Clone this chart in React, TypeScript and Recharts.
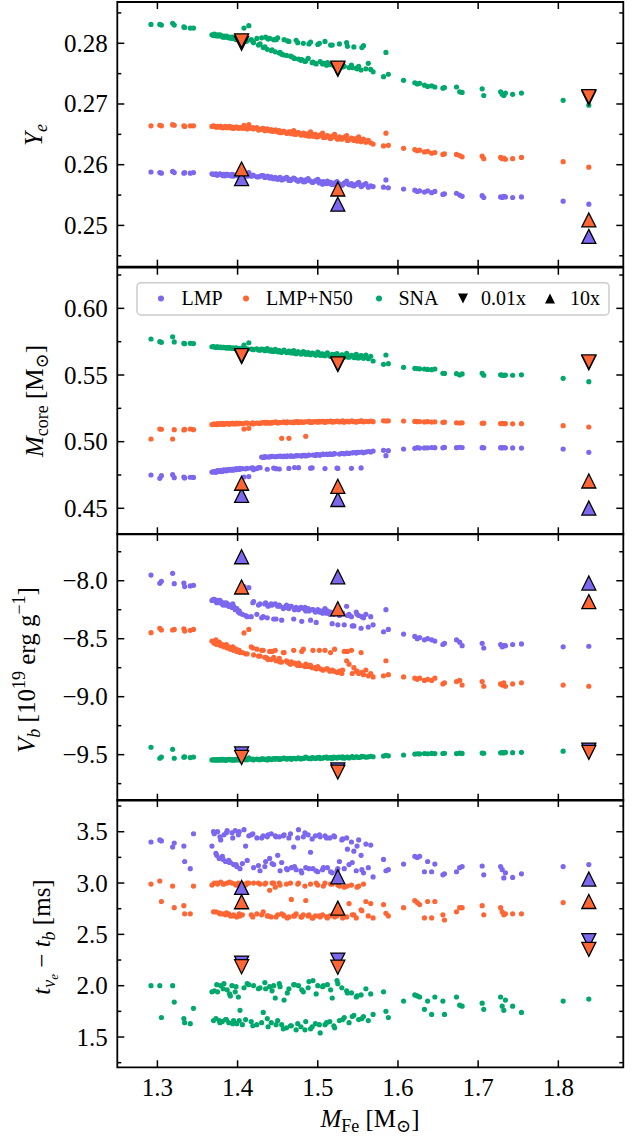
import React from "react";
import { ScatterChart, Scatter, XAxis, YAxis, ReferenceArea } from "recharts";

const FONT = "'Liberation Serif', 'DejaVu Serif', serif";
const LMP_COLOR = "#7B68EE";
const N50_COLOR = "#FF6633";
const SNA_COLOR = "#00A86B";

// iron core mass of each progenitor [Msun], shared by all four panels
// (last block: extra models filling the dense 1.37-1.56 range)
const mFe = [
  1.292, 1.303, 1.305, 1.319, 1.321, 1.333, 1.334, 1.341, 1.345, 1.368,
  1.371, 1.373, 1.375, 1.377, 1.379, 1.381, 1.383, 1.385, 1.387, 1.389,
  1.391, 1.393, 1.395, 1.397, 1.399, 1.401, 1.403, 1.408, 1.410, 1.414,
  1.417, 1.420, 1.424, 1.428, 1.432, 1.435, 1.437, 1.440, 1.442, 1.445,
  1.447, 1.450, 1.452, 1.455, 1.458, 1.461, 1.464, 1.467, 1.470, 1.473,
  1.476, 1.479, 1.482, 1.485, 1.488, 1.491, 1.494, 1.497, 1.500, 1.503,
  1.506, 1.509, 1.512, 1.515, 1.518, 1.521, 1.524, 1.527, 1.530, 1.533,
  1.536, 1.539, 1.542, 1.545, 1.548, 1.551, 1.554, 1.557, 1.560, 1.563,
  1.566, 1.569, 1.582, 1.585, 1.588, 1.607, 1.621, 1.624, 1.627, 1.633,
  1.637, 1.642, 1.646, 1.656, 1.658, 1.673, 1.677, 1.680, 1.705, 1.707,
  1.728, 1.730, 1.732, 1.734, 1.743, 1.754, 1.806, 1.838,
  1.370, 1.374, 1.378, 1.382, 1.386, 1.390, 1.394, 1.398, 1.402, 1.406,
  1.412, 1.419, 1.426, 1.430, 1.434, 1.438, 1.443, 1.448, 1.453, 1.457,
  1.462, 1.466, 1.471, 1.475, 1.480, 1.484, 1.489, 1.493, 1.498, 1.502,
  1.507, 1.511, 1.516, 1.520, 1.525, 1.531, 1.537, 1.543, 1.549, 1.555,
];

// Ye at bounce
const yeLMP = [
  0.2588, 0.2587, 0.2586, 0.2589, 0.2587, 0.2586, 0.2587, 0.2586, 0.2587, 0.2585,
  0.2584, 0.2585, 0.2583, 0.2584, 0.2584, 0.2583, 0.2584, 0.2582, 0.2584, 0.2583,
  0.2582, 0.2584, 0.2583, 0.2582, 0.2583, 0.2582, 0.2581, 0.2586, 0.2582, 0.2587,
  0.2581, 0.2582, 0.2580, 0.2581, 0.2582, 0.2579, 0.2581, 0.2578, 0.2580, 0.2577,
  0.2579, 0.2576, 0.2578, 0.2575, 0.2577, 0.2579, 0.2574, 0.2576, 0.2578, 0.2575,
  0.2573, 0.2576, 0.2572, 0.2575, 0.2577, 0.2573, 0.2571, 0.2574, 0.2576, 0.2572,
  0.2568, 0.2571, 0.2573, 0.2569, 0.2567, 0.2570, 0.2572, 0.2568, 0.2566, 0.2570,
  0.2573, 0.2567, 0.2569, 0.2565, 0.2568, 0.2571, 0.2564, 0.2567, 0.2569, 0.2563,
  0.2565, 0.2564, 0.2563, 0.2575, 0.2562, 0.2560, 0.2558, 0.2556, 0.2557, 0.2555,
  0.2557, 0.2554, 0.2556, 0.2551, 0.2552, 0.2553, 0.2550, 0.2548, 0.2549, 0.2546,
  0.2547, 0.2546, 0.2548, 0.2547, 0.2546, 0.2547, 0.2540, 0.2535,
  0.2584, 0.2583, 0.2585, 0.2582, 0.2584, 0.2583, 0.2581, 0.2583, 0.2582, 0.2580,
  0.2581, 0.2583, 0.2580, 0.2582, 0.2579, 0.2581, 0.2578, 0.2577, 0.2579, 0.2576,
  0.2578, 0.2574, 0.2577, 0.2573, 0.2575, 0.2572, 0.2574, 0.2571, 0.2573, 0.2570,
  0.2572, 0.2569, 0.2571, 0.2568, 0.2570, 0.2567, 0.2569, 0.2566, 0.2568, 0.2565,
];
const yeN50 = [
  0.2664, 0.2665, 0.2664, 0.2666, 0.2665, 0.2664, 0.2663, 0.2664, 0.2664, 0.2663,
  0.2663, 0.2662, 0.2663, 0.2662, 0.2663, 0.2661, 0.2662, 0.2663, 0.2661, 0.2662,
  0.2661, 0.2662, 0.2660, 0.2661, 0.2662, 0.2660, 0.2661, 0.2665, 0.2660, 0.2666,
  0.2660, 0.2659, 0.2661, 0.2658, 0.2660, 0.2657, 0.2659, 0.2656, 0.2658, 0.2655,
  0.2657, 0.2654, 0.2656, 0.2653, 0.2655, 0.2652, 0.2654, 0.2651, 0.2656, 0.2650,
  0.2653, 0.2649, 0.2652, 0.2648, 0.2651, 0.2654, 0.2647, 0.2650, 0.2646, 0.2649,
  0.2652, 0.2645, 0.2648, 0.2644, 0.2647, 0.2650, 0.2643, 0.2646, 0.2642, 0.2645,
  0.2648, 0.2641, 0.2644, 0.2640, 0.2643, 0.2646, 0.2638, 0.2642, 0.2637, 0.2640,
  0.2636, 0.2634, 0.2631, 0.2652, 0.2632, 0.2627, 0.2625, 0.2623, 0.2624, 0.2621,
  0.2622, 0.2619, 0.2620, 0.2617, 0.2618, 0.2617, 0.2615, 0.2613, 0.2614, 0.2610,
  0.2612, 0.2610, 0.2611, 0.2609, 0.2610, 0.2612, 0.2605, 0.2596,
  0.2664, 0.2662, 0.2663, 0.2661, 0.2662, 0.2663, 0.2660, 0.2662, 0.2661, 0.2660,
  0.2659, 0.2661, 0.2657, 0.2659, 0.2656, 0.2658, 0.2655, 0.2657, 0.2653, 0.2655,
  0.2652, 0.2654, 0.2650, 0.2653, 0.2649, 0.2651, 0.2647, 0.2650, 0.2646, 0.2648,
  0.2645, 0.2647, 0.2643, 0.2646, 0.2642, 0.2644, 0.2640, 0.2643, 0.2639, 0.2641,
];
const yeSNA = [
  0.2831, 0.2831, 0.2830, 0.2833, 0.2830, 0.2827, 0.2826, 0.2825, 0.2825, 0.2814,
  0.2815, 0.2813, 0.2814, 0.2812, 0.2813, 0.2811, 0.2812, 0.2810, 0.2811, 0.2809,
  0.2810, 0.2808, 0.2809, 0.2807, 0.2806, 0.2808, 0.2805, 0.2825, 0.2803, 0.2829,
  0.2806, 0.2801, 0.2808, 0.2799, 0.2793, 0.2810, 0.2790, 0.2808, 0.2788, 0.2806,
  0.2786, 0.2809, 0.2784, 0.2782, 0.2806, 0.2780, 0.2803, 0.2778, 0.2776, 0.2805,
  0.2774, 0.2772, 0.2800, 0.2771, 0.2775, 0.2802, 0.2769, 0.2767, 0.2798, 0.2770,
  0.2766, 0.2803, 0.2768, 0.2765, 0.2797, 0.2767, 0.2763, 0.2799, 0.2765, 0.2762,
  0.2801, 0.2760, 0.2764, 0.2794, 0.2759, 0.2762, 0.2756, 0.2796, 0.2758, 0.2767,
  0.2757, 0.2753, 0.2745, 0.2785, 0.2749, 0.2739, 0.2735, 0.2733, 0.2734, 0.2731,
  0.2729, 0.2730, 0.2728, 0.2726, 0.2727, 0.2728, 0.2720, 0.2719, 0.2725, 0.2714,
  0.2720, 0.2716, 0.2714, 0.2718, 0.2716, 0.2718, 0.2706, 0.2698,
  0.2813, 0.2812, 0.2814, 0.2810, 0.2812, 0.2809, 0.2810, 0.2807, 0.2808, 0.2806,
  0.2804, 0.2803, 0.2797, 0.2809, 0.2794, 0.2807, 0.2789, 0.2806, 0.2785, 0.2781,
  0.2804, 0.2779, 0.2775, 0.2801, 0.2773, 0.2770, 0.2799, 0.2768, 0.2766, 0.2800,
  0.2767, 0.2764, 0.2797, 0.2763, 0.2765, 0.2761, 0.2795, 0.2760, 0.2758, 0.2793,
];

// inner core mass [Msun]
const mcLMP = [
  0.4750, 0.4725, 0.4745, 0.4752, 0.4730, 0.4735, 0.4728, 0.4733, 0.4732, 0.4772,
  0.4775, 0.4770, 0.4782, 0.4778, 0.4785, 0.4776, 0.4788, 0.4783, 0.4790, 0.4786,
  0.4792, 0.4788, 0.4795, 0.4790, 0.4798, 0.4793, 0.4800, 0.4735, 0.4796, 0.4738,
  0.4802, 0.4790, 0.4798, 0.4805, 0.4882, 0.4885, 0.4793, 0.4886, 0.4888, 0.4802,
  0.4887, 0.4890, 0.4795, 0.4889, 0.4892, 0.4888, 0.4799, 0.4893, 0.4890, 0.4895,
  0.4805, 0.4894, 0.4897, 0.4893, 0.4898, 0.4801, 0.4900, 0.4897, 0.4903, 0.4899,
  0.4906, 0.4798, 0.4903, 0.4908, 0.4905, 0.4910, 0.4802, 0.4907, 0.4912, 0.4909,
  0.4915, 0.4912, 0.4800, 0.4918, 0.4914, 0.4920, 0.4803, 0.4917, 0.4922, 0.4926,
  0.4923, 0.4930, 0.4935, 0.4895, 0.4932, 0.4945, 0.4950, 0.4955, 0.4952, 0.4953,
  0.4954, 0.4956, 0.4955, 0.4954, 0.4957, 0.4955, 0.4958, 0.4956, 0.4955, 0.4954,
  0.4955, 0.4953, 0.4956, 0.4954, 0.4953, 0.4952, 0.4945, 0.4920,
  0.4773, 0.4779, 0.4776, 0.4784, 0.4781, 0.4789, 0.4786, 0.4794, 0.4791, 0.4797,
  0.4799, 0.4803, 0.4806, 0.4884, 0.4887, 0.4885, 0.4889, 0.4797, 0.4891, 0.4888,
  0.4893, 0.4891, 0.4806, 0.4895, 0.4893, 0.4897, 0.4900, 0.4804, 0.4902, 0.4899,
  0.4904, 0.4907, 0.4905, 0.4909, 0.4799, 0.4911, 0.4913, 0.4916, 0.4919, 0.4921,
];
const mcN50 = [
  0.5020, 0.5095, 0.5093, 0.5020, 0.5090, 0.5088, 0.5092, 0.5095, 0.5090, 0.5128,
  0.5132, 0.5130, 0.5135, 0.5129, 0.5133, 0.5136, 0.5131, 0.5134, 0.5137, 0.5132,
  0.5135, 0.5138, 0.5133, 0.5136, 0.5139, 0.5134, 0.5137, 0.5095, 0.5140, 0.5100,
  0.5136, 0.5133, 0.5140, 0.5137, 0.5143, 0.5139, 0.5145, 0.5141, 0.5138, 0.5144,
  0.5146, 0.5140, 0.5143, 0.5025, 0.5147, 0.5141, 0.5025, 0.5145, 0.5142, 0.5148,
  0.5143, 0.5149, 0.5145, 0.5040, 0.5150, 0.5144, 0.5147, 0.5151, 0.5146, 0.5148,
  0.5152, 0.5145, 0.5149, 0.5153, 0.5147, 0.5150, 0.5154, 0.5148, 0.5151, 0.5146,
  0.5153, 0.5149, 0.5155, 0.5150, 0.5147, 0.5152, 0.5156, 0.5149, 0.5153, 0.5151,
  0.5155, 0.5150, 0.5157, 0.5155, 0.5156, 0.5155, 0.5152, 0.5150, 0.5151, 0.5148,
  0.5150, 0.5147, 0.5149, 0.5145, 0.5146, 0.5142, 0.5140, 0.5141, 0.5138, 0.5139,
  0.5136, 0.5137, 0.5135, 0.5136, 0.5134, 0.5135, 0.5120, 0.5110,
  0.5131, 0.5128, 0.5134, 0.5130, 0.5136, 0.5133, 0.5137, 0.5134, 0.5138, 0.5135,
  0.5139, 0.5142, 0.5138, 0.5141, 0.5145, 0.5140, 0.5144, 0.5147, 0.5143, 0.5146,
  0.5149, 0.5145, 0.5148, 0.5150, 0.5146, 0.5149, 0.5152, 0.5148, 0.5151, 0.5153,
  0.5149, 0.5152, 0.5155, 0.5150, 0.5153, 0.5156, 0.5152, 0.5155, 0.5151, 0.5154,
];
const mcSNA = [
  0.5770, 0.5750, 0.5745, 0.5787, 0.5748, 0.5738, 0.5735, 0.5738, 0.5736, 0.5712,
  0.5710, 0.5708, 0.5711, 0.5707, 0.5709, 0.5705, 0.5707, 0.5704, 0.5706, 0.5702,
  0.5704, 0.5700, 0.5702, 0.5698, 0.5700, 0.5697, 0.5699, 0.5725, 0.5696, 0.5742,
  0.5695, 0.5690, 0.5697, 0.5686, 0.5692, 0.5684, 0.5698, 0.5680, 0.5688, 0.5677,
  0.5692, 0.5675, 0.5683, 0.5670, 0.5687, 0.5668, 0.5679, 0.5665, 0.5684, 0.5660,
  0.5672, 0.5658, 0.5676, 0.5655, 0.5668, 0.5652, 0.5663, 0.5650, 0.5671, 0.5648,
  0.5658, 0.5645, 0.5666, 0.5642, 0.5655, 0.5640, 0.5660, 0.5638, 0.5652, 0.5636,
  0.5662, 0.5634, 0.5648, 0.5631, 0.5655, 0.5628, 0.5645, 0.5625, 0.5650, 0.5622,
  0.5640, 0.5605, 0.5580, 0.5650, 0.5585, 0.5558, 0.5550, 0.5548, 0.5546, 0.5545,
  0.5542, 0.5540, 0.5545, 0.5513, 0.5512, 0.5510, 0.5500, 0.5508, 0.5513, 0.5498,
  0.5502, 0.5499, 0.5497, 0.5500, 0.5498, 0.5501, 0.5475, 0.5450,
  0.5713, 0.5709, 0.5706, 0.5708, 0.5703, 0.5705, 0.5701, 0.5703, 0.5699, 0.5701,
  0.5696, 0.5693, 0.5688, 0.5694, 0.5682, 0.5689, 0.5678, 0.5685, 0.5673, 0.5681,
  0.5669, 0.5678, 0.5664, 0.5674, 0.5660, 0.5669, 0.5656, 0.5665, 0.5651, 0.5661,
  0.5647, 0.5657, 0.5643, 0.5653, 0.5639, 0.5649, 0.5635, 0.5644, 0.5630, 0.5641,
];

// gravitational potential at bounce [1e19 erg/g]
const vbLMP = [
  -7.951, -8.022, -8.005, -7.936, -8.025, -8.020, -8.050, -8.045, -8.040, -8.17,
  -8.16, -8.18, -8.17, -8.19, -8.18, -8.20, -8.19, -8.21, -8.20, -8.22,
  -8.21, -8.23, -8.22, -8.25, -8.24, -8.27, -8.28, -8.05, -8.30, -8.06,
  -8.31, -8.18, -8.29, -8.20, -8.31, -8.19, -8.32, -8.21, -8.20, -8.33,
  -8.20, -8.22, -8.21, -8.34, -8.23, -8.21, -8.24, -8.22, -8.33, -8.23,
  -8.25, -8.23, -8.24, -8.26, -8.24, -8.34, -8.25, -8.27, -8.25, -8.26,
  -8.28, -8.24, -8.26, -8.29, -8.37, -8.27, -8.26, -8.30, -8.28, -8.38,
  -8.22, -8.29, -8.31, -8.39, -8.27, -8.30, -8.41, -8.32, -8.29, -8.40,
  -8.31, -8.38, -8.44, -8.25, -8.42, -8.46, -8.48, -8.50, -8.49, -8.51,
  -8.50, -8.51, -8.52, -8.55, -8.54, -8.51, -8.53, -8.56, -8.54, -8.58,
  -8.55, -8.57, -8.56, -8.56, -8.55, -8.545, -8.57, -8.565,
  -8.16, -8.19, -8.17, -8.21, -8.19, -8.22, -8.20, -8.24, -8.26, -8.29,
  -8.31, -8.19, -8.21, -8.32, -8.20, -8.22, -8.21, -8.33, -8.22, -8.24,
  -8.23, -8.22, -8.25, -8.24, -8.35, -8.23, -8.26, -8.25, -8.36, -8.27,
  -8.26, -8.28, -8.27, -8.29, -8.38, -8.28, -8.30, -8.39, -8.29, -8.31,
];
const vbN50 = [
  -8.448, -8.410, -8.425, -8.425, -8.420, -8.415, -8.434, -8.428, -8.420, -8.52,
  -8.54, -8.51, -8.55, -8.53, -8.56, -8.55, -8.57, -8.56, -8.58, -8.57,
  -8.59, -8.58, -8.60, -8.59, -8.61, -8.60, -8.62, -8.45, -8.63, -8.42,
  -8.57, -8.64, -8.59, -8.65, -8.60, -8.66, -8.67, -8.61, -8.68, -8.66,
  -8.60, -8.69, -8.67, -8.70, -8.62, -8.69, -8.71, -8.70, -8.60, -8.72,
  -8.71, -8.73, -8.59, -8.72, -8.74, -8.73, -8.60, -8.75, -8.74, -8.76,
  -8.77, -8.60, -8.76, -8.78, -8.77, -8.59, -8.79, -8.78, -8.80, -8.61,
  -8.69, -8.72, -8.60, -8.75, -8.78, -8.80, -8.62, -8.81, -8.77, -8.82,
  -8.80, -8.83, -8.82, -8.69, -8.81, -8.83, -8.84, -8.85, -8.84, -8.86,
  -8.85, -8.86, -8.84, -8.89, -8.88, -8.87, -8.86, -8.90, -8.87, -8.91,
  -8.89, -8.90, -8.88, -8.91, -8.89, -8.88, -8.90, -8.91,
  -8.53, -8.55, -8.54, -8.56, -8.55, -8.58, -8.57, -8.59, -8.60, -8.62,
  -8.63, -8.58, -8.65, -8.60, -8.66, -8.68, -8.61, -8.69, -8.70, -8.62,
  -8.70, -8.72, -8.71, -8.73, -8.61, -8.74, -8.73, -8.75, -8.76, -8.60,
  -8.77, -8.76, -8.62, -8.78, -8.79, -8.77, -8.61, -8.80, -8.78, -8.79,
];
const vbSNA = [
  -9.436, -9.531, -9.520, -9.454, -9.531, -9.522, -9.518, -9.525, -9.520, -9.545,
  -9.542, -9.548, -9.544, -9.546, -9.541, -9.547, -9.543, -9.549, -9.544, -9.540,
  -9.546, -9.542, -9.548, -9.543, -9.545, -9.541, -9.547, -9.530, -9.543, -9.528,
  -9.540, -9.545, -9.538, -9.543, -9.536, -9.541, -9.546, -9.537, -9.542, -9.535,
  -9.539, -9.533, -9.541, -9.536, -9.530, -9.538, -9.534, -9.540, -9.532, -9.536,
  -9.530, -9.537, -9.533, -9.520, -9.531, -9.535, -9.528, -9.532, -9.526, -9.534,
  -9.529, -9.524, -9.531, -9.527, -9.533, -9.525, -9.529, -9.522, -9.527, -9.531,
  -9.523, -9.528, -9.520, -9.525, -9.518, -9.524, -9.521, -9.516, -9.522, -9.519,
  -9.514, -9.518, -9.512, -9.505, -9.510, -9.503, -9.495, -9.492, -9.494, -9.490,
  -9.492, -9.489, -9.491, -9.490, -9.488, -9.491, -9.487, -9.489, -9.486, -9.488,
  -9.484, -9.482, -9.485, -9.481, -9.483, -9.480, -9.470, -9.468,
  -9.546, -9.543, -9.547, -9.541, -9.545, -9.542, -9.546, -9.540, -9.544, -9.541,
  -9.543, -9.539, -9.542, -9.537, -9.540, -9.535, -9.538, -9.534, -9.537, -9.532,
  -9.535, -9.531, -9.534, -9.529, -9.532, -9.528, -9.531, -9.526, -9.529, -9.524,
  -9.527, -9.522, -9.526, -9.521, -9.524, -9.519, -9.522, -9.517, -9.520, -9.515,
];

// nu_e burst peak time minus bounce time [ms]
const tbLMP = [
  3.40, 3.42, 3.41, 3.35, 3.39, 3.36, 3.21, 3.14, 3.48, 3.36,
  3.48, 3.29, 3.50, 3.24, 3.42, 3.26, 3.47, 3.21, 3.51, 3.22,
  3.20, 3.49, 3.18, 3.51, 3.16, 3.47, 3.14, 3.52, 3.36, 3.46,
  3.47, 3.15, 3.44, 3.12, 3.46, 3.21, 3.45, 3.24, 3.48, 3.18,
  3.46, 3.27, 3.45, 3.20, 3.47, 3.14, 3.44, 3.15, 3.35, 3.13,
  3.52, 3.12, 3.45, 3.15, 3.47, 3.30, 3.14, 3.46, 3.11, 3.45,
  3.13, 3.46, 3.15, 3.44, 3.10, 3.45, 3.12, 3.21, 3.42, 3.14,
  3.44, 3.18, 3.40, 3.31, 3.12, 3.42, 3.27, 3.10, 3.38, 3.15,
  3.37, 3.06, 3.23, 3.12, 3.13, 3.185, 3.26, 3.25, 3.26, 3.11,
  3.21, 3.11, 3.185, 3.08, 3.09, 3.11, 3.15, 3.16, 3.166, 3.08,
  3.16, 3.13, 3.05, 3.10, 3.055, 3.09, 3.16, 3.18,
  3.50, 3.27, 3.45, 3.23, 3.49, 3.20, 3.44, 3.18, 3.50, 3.19,
  3.22, 3.48, 3.17, 3.44, 3.16, 3.47, 3.19, 3.45, 3.12, 3.46,
  3.13, 3.48, 3.16, 3.44, 3.10, 3.49, 3.14, 3.43, 3.12, 3.47,
  3.15, 3.44, 3.11, 3.46, 3.14, 3.43, 3.33, 3.20, 3.36, 3.13,
];
const tbN50 = [
  2.99, 3.02, 2.82, 2.97, 2.76, 2.78, 2.70, 2.70, 2.97, 2.98,
  3.00, 2.72, 2.99, 2.71, 3.01, 2.70, 2.99, 2.69, 3.00, 2.70,
  2.68, 3.00, 2.69, 2.99, 2.67, 3.00, 2.68, 2.99, 2.98, 3.00,
  2.69, 3.00, 2.70, 2.99, 2.72, 3.00, 2.68, 2.93, 2.67, 3.00,
  2.96, 2.69, 3.00, 2.70, 2.68, 2.99, 2.67, 2.84, 2.68, 2.70,
  3.00, 2.67, 2.69, 2.83, 2.68, 2.99, 2.66, 2.68, 2.98, 2.67,
  2.69, 3.00, 2.66, 2.68, 2.99, 2.67, 2.68, 2.97, 2.69, 2.96,
  2.67, 2.80, 2.98, 2.69, 2.66, 2.97, 2.74, 2.99, 2.82, 2.68,
  2.80, 2.66, 2.79, 2.705, 2.68, 2.76, 2.83, 2.81, 2.79, 2.66,
  2.82, 2.66, 2.82, 2.69, 2.64, 2.72, 2.76, 2.76, 2.78, 2.69,
  2.76, 2.72, 2.69, 2.70, 2.70, 2.70, 2.81, 2.80,
  2.72, 3.00, 2.70, 2.99, 2.71, 3.01, 2.68, 2.98, 2.70, 2.69,
  3.00, 2.67, 3.00, 2.69, 2.99, 2.68, 3.00, 2.67, 2.98, 2.69,
  2.66, 3.00, 2.68, 2.99, 2.67, 2.97, 2.69, 2.66, 3.00, 2.68,
  2.97, 2.67, 2.99, 2.70, 2.98, 2.66, 2.97, 2.69, 2.96, 2.73,
];
const tbSNA = [
  2.00, 2.00, 1.69, 2.00, 1.84, 1.68, 1.64, 1.63, 1.78, 1.94,
  1.95, 1.68, 1.94, 1.66, 2.00, 1.65, 2.02, 1.67, 1.96, 1.64,
  1.90, 2.00, 1.66, 1.94, 1.63, 1.89, 1.76, 1.98, 1.67, 2.01,
  1.65, 2.00, 1.62, 1.98, 1.74, 1.97, 1.68, 1.99, 1.64, 2.00,
  1.88, 1.66, 2.02, 1.62, 1.86, 1.59, 1.97, 1.61, 2.01, 1.57,
  2.00, 1.60, 1.94, 1.65, 1.98, 1.58, 2.05, 1.63, 2.00, 1.54,
  1.99, 1.62, 2.01, 1.65, 1.88, 1.59, 2.05, 1.66, 1.98, 1.69,
  1.95, 1.64, 1.93, 1.71, 1.89, 1.67, 1.91, 1.70, 1.97, 1.66,
  1.92, 1.72, 1.94, 1.75, 1.69, 1.85, 1.91, 1.90, 1.89, 1.77,
  1.85, 1.72, 1.89, 1.85, 1.72, 1.89, 1.81, 1.80, 1.83, 1.77,
  1.89, 1.80, 1.76, 1.86, 1.80, 1.74, 1.85, 1.87,
  1.66, 2.01, 1.64, 1.97, 1.67, 1.92, 1.63, 1.99, 1.66, 1.62,
  2.02, 1.61, 1.97, 1.64, 2.03, 1.60, 1.95, 1.62, 1.99, 1.58,
  1.93, 1.61, 2.01, 1.63, 1.96, 1.57, 2.04, 1.60, 1.92, 1.62,
  2.00, 1.64, 1.96, 1.61, 2.02, 1.67, 1.93, 1.70, 1.90, 1.68,
];

// rate-scaled runs (0.01x and 10x) for three progenitors
const triX = [1.405, 1.525, 1.838];
const yeLowLMP = [0.2800, 0.2757, 0.2710];
const yeLowN50 = [0.2804, 0.2759, 0.2712];
const yeHighLMP = [0.2577, 0.2535, 0.2482];
const yeHighN50 = [0.2593, 0.2560, 0.2509];
const mcLowLMP = [0.5638, 0.5578, 0.5592];
const mcLowN50 = [0.5646, 0.5584, 0.5598];
const mcHighLMP = [0.4597, 0.4566, 0.4502];
const mcHighN50 = [0.4688, 0.4665, 0.4705];
const vbLowLMP = [-9.494, -9.632, -9.46];
const vbLowN50 = [-9.524, -9.65, -9.48];
const vbHighLMP = [-7.793, -7.966, -8.02];
const vbHighN50 = [-8.054, -8.242, -8.18];
const tbLowLMP = [2.22, 2.25, 2.44];
const tbLowN50 = [2.185, 2.18, 2.354];
const tbHighLMP = [2.958, 3.061, 3.039];
const tbHighN50 = [2.818, 2.756, 2.82];

const xTicks = [1.3, 1.4, 1.5, 1.6, 1.7, 1.8];
const X_DOMAIN: [number, number] = [1.25, 1.881];

const W = 636;
const H = 1137;
const PLOT_LEFT = 117.3;
const PLOT_RIGHT = 623.3;

const pts = (xs: number[], ys: number[]) =>
  xs.map((x, i) => ({ x, y: ys[i] })).filter((p) => p.y !== undefined);

type PanelDef = {
  top: number;
  bottom: number;
  domain: [number, number];
  ticks: number[];
  major: number;
  fmt: (v: number) => string;
  lmp: number[];
  n50: number[];
  sna: number[];
  lowLMP: number[];
  lowN50: number[];
  highLMP: number[];
  highN50: number[];
  xLabels?: boolean;
};

const minus = (s: string) => s.replace("-", "\u2212");

const panels: PanelDef[] = [
  {
    top: 2, bottom: 266.7, domain: [0.2432, 0.2868],
    ticks: [0.245, 0.25, 0.255, 0.26, 0.265, 0.27, 0.275, 0.28, 0.285], major: 0.01,
    fmt: (v) => v.toFixed(2),
    lmp: yeLMP, n50: yeN50, sna: yeSNA,
    lowLMP: yeLowLMP, lowN50: yeLowN50, highLMP: yeHighLMP, highN50: yeHighN50,
  },
  {
    top: 267.7, bottom: 534.3, domain: [0.4305, 0.6305],
    ticks: [0.45, 0.475, 0.5, 0.525, 0.55, 0.575, 0.6, 0.625], major: 0.05,
    fmt: (v) => v.toFixed(2),
    lmp: mcLMP, n50: mcN50, sna: mcSNA,
    lowLMP: mcLowLMP, lowN50: mcLowN50, highLMP: mcHighLMP, highN50: mcHighN50,
  },
  {
    top: 534, bottom: 800.7, domain: [-9.897, -7.597],
    ticks: [-9.75, -9.5, -9.25, -9.0, -8.75, -8.5, -8.25, -8.0, -7.75], major: 0.5,
    fmt: (v) => minus(v.toFixed(1)),
    lmp: vbLMP, n50: vbN50, sna: vbSNA,
    lowLMP: vbLowLMP, lowN50: vbLowN50, highLMP: vbHighLMP, highN50: vbHighN50,
  },
  {
    top: 800, bottom: 1067.3, domain: [1.205, 3.809],
    ticks: [1.25, 1.5, 1.75, 2.0, 2.25, 2.5, 2.75, 3.0, 3.25, 3.5, 3.75], major: 0.5,
    fmt: (v) => v.toFixed(1),
    lmp: tbLMP, n50: tbN50, sna: tbSNA,
    lowLMP: tbLowLMP, lowN50: tbLowN50, highLMP: tbHighLMP, highN50: tbHighN50,
    xLabels: true,
  },
];

const isMajor = (v: number, step: number) => Math.abs(v / step - Math.round(v / step)) < 1e-6;

const dotShape = (color: string) => (p: any) =>
  <circle cx={p.cx} cy={p.cy} r={2.6} fill={color} />;

const triShape = (color: string, up: boolean) => (p: any) => {
  const h = 7;
  const d = up
    ? `M${p.cx},${p.cy - h} L${p.cx + h},${p.cy + h} L${p.cx - h},${p.cy + h} Z`
    : `M${p.cx},${p.cy + h} L${p.cx + h},${p.cy - h} L${p.cx - h},${p.cy - h} Z`;
  return <path d={d} fill={color} stroke="#000" strokeWidth={1.3} strokeLinejoin="miter" />;
};

const Panel = ({ def }: { def: PanelDef }) => {
  const plotW = PLOT_RIGHT - PLOT_LEFT;
  const plotH = def.bottom - def.top;

  // ticks point inwards on all four sides; labels only left and (last panel) bottom
  const yTick = (p: any) => {
    const v = p.payload.value as number;
    const major = isMajor(v, def.major);
    const len = major ? 7 : 4;
    return (
      <g>
        <line x1={p.x} y1={p.y} x2={p.x + len} y2={p.y} stroke="#000" strokeWidth={1.5} />
        <line x1={p.x + plotW} y1={p.y} x2={p.x + plotW - len} y2={p.y} stroke="#000" strokeWidth={1.5} />
        {major && (
          <text x={p.x - 9.5} y={p.y + 8.5} textAnchor="end" fontSize={25} fontFamily={FONT} fill="#000">
            {def.fmt(v)}
          </text>
        )}
      </g>
    );
  };

  const xTick = (p: any) => {
    const v = p.payload.value as number;
    return (
      <g>
        <line x1={p.x} y1={p.y} x2={p.x} y2={p.y - 7} stroke="#000" strokeWidth={1.5} />
        <line x1={p.x} y1={p.y - plotH} x2={p.x} y2={p.y - plotH + 7} stroke="#000" strokeWidth={1.5} />
        {def.xLabels && (
          <text x={p.x} y={p.y + 29} textAnchor="middle" fontSize={25} fontFamily={FONT} fill="#000">
            {v.toFixed(1)}
          </text>
        )}
      </g>
    );
  };

  return (
    <div style={{ position: "absolute", left: 0, top: 0 }}>
      <ScatterChart
        width={W}
        height={H}
        margin={{ top: def.top, bottom: H - def.bottom - 1, left: PLOT_LEFT - 1, right: W - PLOT_RIGHT }}
      >
        <XAxis
          type="number"
          dataKey="x"
          domain={X_DOMAIN}
          allowDataOverflow
          ticks={xTicks}
          interval={0}
          height={1}
          tickSize={0}
          tickMargin={0}
          axisLine={false}
          tickLine={false}
          tick={xTick}
        />
        <YAxis
          type="number"
          dataKey="y"
          domain={def.domain}
          allowDataOverflow
          ticks={def.ticks}
          interval={0}
          width={1}
          tickSize={0}
          tickMargin={0}
          axisLine={false}
          tickLine={false}
          tick={yTick}
        />
        <ReferenceArea
          x1={X_DOMAIN[0]}
          x2={X_DOMAIN[1]}
          y1={def.domain[0]}
          y2={def.domain[1]}
          fill="none"
          fillOpacity={0}
          stroke="#000"
          strokeWidth={1.8}
          ifOverflow="visible"
        />
        <Scatter data={pts(mFe, def.lmp)} fill={LMP_COLOR} shape={dotShape(LMP_COLOR)} isAnimationActive={false} />
        <Scatter data={pts(mFe, def.n50)} fill={N50_COLOR} shape={dotShape(N50_COLOR)} isAnimationActive={false} />
        <Scatter data={pts(mFe, def.sna)} fill={SNA_COLOR} shape={dotShape(SNA_COLOR)} isAnimationActive={false} />
        <Scatter data={pts(triX, def.lowLMP)} fill={LMP_COLOR} shape={triShape(LMP_COLOR, false)} isAnimationActive={false} />
        <Scatter data={pts(triX, def.highLMP)} fill={LMP_COLOR} shape={triShape(LMP_COLOR, true)} isAnimationActive={false} />
        <Scatter data={pts(triX, def.lowN50)} fill={N50_COLOR} shape={triShape(N50_COLOR, false)} isAnimationActive={false} />
        <Scatter data={pts(triX, def.highN50)} fill={N50_COLOR} shape={triShape(N50_COLOR, true)} isAnimationActive={false} />
      </ScatterChart>
    </div>
  );
};

const SUB = 18;

const Titles = () => (
  <svg width={W} height={H} style={{ position: "absolute", left: 0, top: 0 }} fontFamily={FONT} fontSize={25}>
    <text transform="translate(42,135) rotate(-90)" textAnchor="middle">
      <tspan fontStyle="italic">Y</tspan>
      <tspan fontStyle="italic" fontSize={SUB} dy={5}>e</tspan>
    </text>
    <text transform="translate(43,401) rotate(-90)" textAnchor="middle">
      <tspan fontStyle="italic">M</tspan>
      <tspan fontSize={SUB} dy={5}>core</tspan>
      <tspan dy={-5}> [M</tspan>
      <tspan fontSize={SUB} dy={5}>⊙</tspan>
      <tspan dy={-5}>]</tspan>
    </text>
    <text transform="translate(35,670) rotate(-90)" textAnchor="middle">
      <tspan fontStyle="italic">V</tspan>
      <tspan fontStyle="italic" fontSize={SUB} dy={5}>b</tspan>
      <tspan dy={-5}> [10</tspan>
      <tspan fontSize={SUB} dy={-10}>19</tspan>
      <tspan dy={10}> erg g</tspan>
      <tspan fontSize={SUB} dy={-10}>{"\u22121"}</tspan>
      <tspan dy={10}>]</tspan>
    </text>
    <text transform="translate(50,937) rotate(-90)" textAnchor="middle">
      <tspan fontStyle="italic">t</tspan>
      <tspan fontStyle="italic" fontSize={SUB} dy={5}>ν</tspan>
      <tspan fontStyle="italic" fontSize={13} dy={3}>e</tspan>
      <tspan dy={-8}>{" \u2212 "}</tspan>
      <tspan fontStyle="italic">t</tspan>
      <tspan fontStyle="italic" fontSize={SUB} dy={5}>b</tspan>
      <tspan dy={-5}> [ms]</tspan>
    </text>
    <text x={370} y={1127} textAnchor="middle">
      <tspan fontStyle="italic">M</tspan>
      <tspan fontSize={SUB} dy={5}>Fe</tspan>
      <tspan dy={-5}> [M</tspan>
      <tspan fontSize={SUB} dy={5}>⊙</tspan>
      <tspan dy={-5}>]</tspan>
    </text>

    {/* legend */}
    <rect x={137} y={282.7} width={472} height={32.3} rx={4} fill="#fff" fillOpacity={0.85} stroke="#cccccc" strokeWidth={1.5} />
    <g fontSize={20}>
      <circle cx={161} cy={298.5} r={3} fill={LMP_COLOR} />
      <text x={181.5} y={305.3}>LMP</text>
      <circle cx={246} cy={298.5} r={3} fill={N50_COLOR} />
      <text x={266} y={305.3}>LMP+N50</text>
      <circle cx={379} cy={298.5} r={3} fill={SNA_COLOR} />
      <text x={398.5} y={305.3}>SNA</text>
      <path d="M463,303.5 L468,293.5 L458,293.5 Z" fill="#000" />
      <text x={481} y={305.3}>0.01x</text>
      <path d="M550,293.5 L555,303.5 L545,303.5 Z" fill="#000" />
      <text x={570} y={305.3}>10x</text>
    </g>
  </svg>
);

export default function App() {
  return (
    <div style={{ position: "absolute", left: 0, top: 0, width: W, height: H, background: "#fff" }}>
      {panels.map((def, i) => (
        <Panel key={i} def={def} />
      ))}
      <Titles />
    </div>
  );
}
